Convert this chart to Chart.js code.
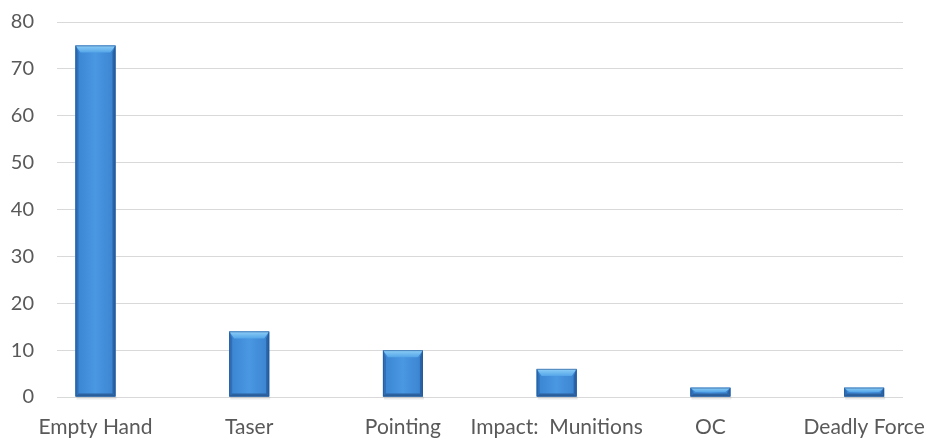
<!DOCTYPE html>
<html>
<head>
<meta charset="utf-8">
<script src="https://cdn.jsdelivr.net/npm/chart.js@4/dist/chart.umd.min.js"></script>
<style>
  html, body { margin: 0; padding: 0; background: #ffffff; overflow: hidden; }
  #wrap { width: 930px; height: 440px; position: relative; }
</style>
</head>
<body>
<div id="wrap"><canvas id="c"></canvas></div>
<script>
const categories = ["Empty Hand", "Taser", "Pointing", "Impact:  Munitions", "OC", "Deadly Force"];
const values = [75, 14, 10, 6, 2, 2];
const yTicks = [0, 10, 20, 30, 40, 50, 60, 70, 80];

const FONT = "Lato, 'Open Sans', sans-serif";
const TEXT = "#595959";

// Category band in the original extends past the gridlines
const CAT_LEFT = 18.6, CAT_RIGHT = 941;

const shiftCategories = {
  id: 'shiftCategories',
  afterLayout(chart) {
    const xs = chart.scales.x;
    xs._startPixel = CAT_LEFT;
    xs._endPixel = CAT_RIGHT;
    xs._length = CAT_RIGHT - CAT_LEFT;
  }
};

function poly(ctx, pts, fill) {
  ctx.beginPath();
  ctx.moveTo(pts[0][0], pts[0][1]);
  for (let i = 1; i < pts.length; i++) ctx.lineTo(pts[i][0], pts[i][1]);
  ctx.closePath();
  ctx.fillStyle = fill;
  ctx.fill();
}

const bevelBars = {
  id: 'bevelBars',
  afterDatasetsDraw(chart) {
    const ctx = chart.ctx;
    const meta = chart.getDatasetMeta(0);
    meta.data.forEach(bar => {
      const p = bar.getProps(['x', 'y', 'base', 'width'], true);
      const l = p.x - p.width / 2, r = p.x + p.width / 2;
      const t = Math.min(p.y, p.base), b = Math.max(p.y, p.base);
      const h = b - t;
      const sTop = Math.min(7, h / 2);
      const sSide = Math.min(3, p.width / 4);
      const sBot = Math.min(3, h / 3);
      ctx.save();
      ctx.fillStyle = 'rgba(0,0,0,0.08)';
      ctx.fillRect(l + 1, b, p.width, 3);
      const g = ctx.createLinearGradient(l, 0, r, 0);
      g.addColorStop(0, '#3a84d2');
      g.addColorStop(0.5, '#4a97e2');
      g.addColorStop(1, '#3a82cf');
      ctx.fillStyle = g;
      ctx.fillRect(l, t, p.width, h);
      poly(ctx, [[l, t], [l + sSide, t + sTop], [l + sSide, b - sBot], [l, b]], '#2f70b8');
      poly(ctx, [[r, t], [r - sSide, t + sTop], [r - sSide, b - sBot], [r, b]], '#2a64a6');
      poly(ctx, [[l, b], [l + sSide, b - sBot], [r - sSide, b - sBot], [r, b]], '#2c62a0');
      const gt = ctx.createLinearGradient(0, t, 0, t + sTop);
      gt.addColorStop(0, '#8fd0f8');
      gt.addColorStop(1, '#55a6e8');
      poly(ctx, [[l, t], [r, t], [r - sSide - 2, t + sTop], [l + sSide + 2, t + sTop]], gt);
      ctx.strokeStyle = 'rgba(35,80,140,0.55)';
      ctx.lineWidth = 1;
      ctx.strokeRect(l + 0.5, t + 0.5, p.width - 1, h - 1);
      ctx.restore();
    });
  }
};

new Chart(document.getElementById('c'), {
  type: 'bar',
  data: {
    labels: categories,
    datasets: [{
      data: values,
      backgroundColor: '#4a90d9',
      categoryPercentage: 1,
      barPercentage: 0.26
    }]
  },
  options: {
    responsive: true,
    maintainAspectRatio: false,
    animation: false,
    devicePixelRatio: 1,
    layout: { padding: { top: 22, right: 27, bottom: 0, left: 0 } },
    plugins: { legend: { display: false }, tooltip: { enabled: false } },
    scales: {
      x: {
        grid: { display: false, drawTicks: false },
        border: { display: false },
        ticks: { color: TEXT, font: { family: FONT, size: 21 }, padding: 18, maxRotation: 0, autoSkip: false },
        afterFit(s) { s.height = 43; s.paddingLeft = 0; s.paddingRight = 0; }
      },
      y: {
        min: 0, max: 80,
        afterBuildTicks(s) { s.ticks = yTicks.map(v => ({ value: v })); },
        grid: { color: '#d9d9d9', lineWidth: 1, drawTicks: false },
        border: { display: false },
        ticks: { color: TEXT, font: { family: FONT, size: 20 }, padding: 23 },
        afterFit(s) { s.width = 57; s.paddingTop = 0; s.paddingBottom = 0; }
      }
    }
  },
  plugins: [shiftCategories, bevelBars]
});
</script>
</body>
</html>
